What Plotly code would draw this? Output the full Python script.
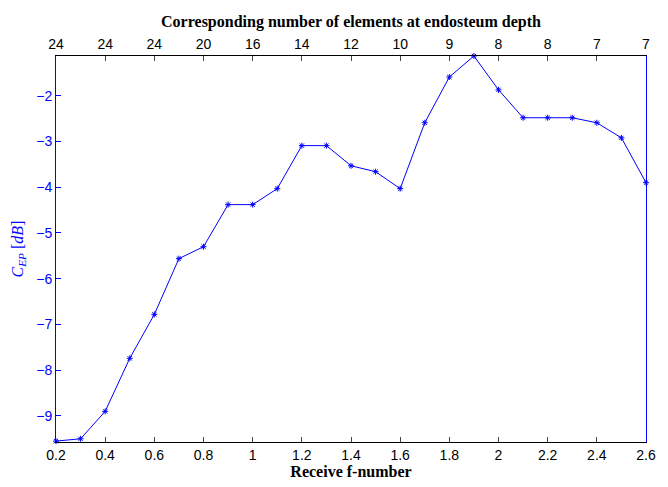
import plotly.graph_objects as go

fnum = [0.2,0.3,0.4,0.5,0.6,0.7,0.8,0.9,1.0,1.1,1.2,1.3,1.4,1.5,1.6,1.7,1.8,1.9,2.0,2.1,2.2,2.3,2.4,2.5,2.6]
cep = [-9.55,-9.5,-8.9,-7.74,-6.78,-5.56,-5.3,-4.38,-4.38,-4.03,-3.09,-3.09,-3.53,-3.66,-4.03,-2.59,-1.59,-1.13,-1.87,-2.48,-2.48,-2.48,-2.59,-2.92,-3.9]
xticks = [0.2,0.4,0.6,0.8,1.0,1.2,1.4,1.6,1.8,2.0,2.2,2.4,2.6]
xticklabels = ["0.2","0.4","0.6","0.8","1","1.2","1.4","1.6","1.8","2","2.2","2.4","2.6"]
top_labels = ["24","24","24","20","16","14","12","10","9","8","8","7","7"]
yticks = [-9,-8,-7,-6,-5,-4,-3,-2]

blue = "#0000ff"
serif = "Liberation Serif"
fig = go.Figure()
fig.add_trace(go.Scatter(x=fnum, y=cep, mode="lines+markers", cliponaxis=False,
    line=dict(color=blue, width=1), marker=dict(symbol="asterisk", size=5, color=blue, line=dict(color=blue, width=1)),
    showlegend=False))
fig.add_trace(go.Scatter(x=fnum, y=cep, xaxis="x2", mode="none", showlegend=False, hoverinfo="skip"))
fig.update_layout(
    width=668, height=487, plot_bgcolor="white", paper_bgcolor="white",
    margin=dict(l=48, r=30, t=48, b=53),
    font=dict(family="Liberation Sans", size=14, color="black"),
    xaxis=dict(range=[0.2,2.6], tickvals=xticks, ticktext=xticklabels, ticks="inside", ticklen=5, automargin=False,
               showline=True, linecolor="black", showgrid=False, zeroline=False,
               title=dict(text="<b>Receive f-number</b>", font=dict(family=serif, size=16), standoff=2)),
    xaxis2=dict(range=[0.2,2.6], overlaying="x", side="top", tickvals=xticks, ticktext=top_labels, automargin=False,
                ticks="inside", ticklen=5, showline=True, linecolor="black", showgrid=False, zeroline=False,
                title=dict(text="<b>Corresponding number of elements at endosteum depth</b>", font=dict(family=serif, size=16), standoff=4)),
    yaxis=dict(range=[-9.57,-1.13], tickvals=yticks, ticks="inside", ticklen=5, tickcolor=blue, automargin=False,
               tickfont=dict(color=blue), showline=True, linecolor=blue, mirror=True, showgrid=False, zeroline=False,
               title=dict(text="<i>C<sub>EP</sub></i> [<i>dB</i>]", font=dict(family=serif, size=16, color=blue), standoff=8)),
)
fig.write_html("out.html")
